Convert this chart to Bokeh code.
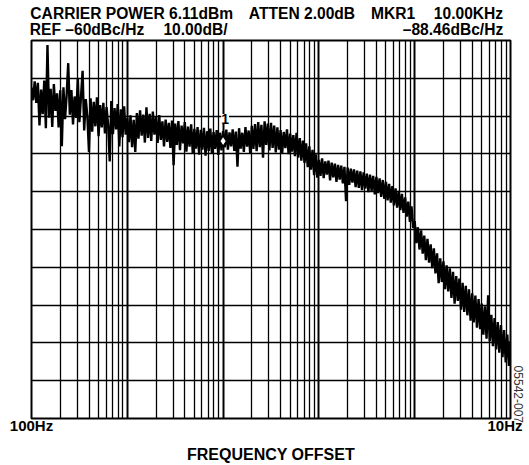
import numpy as np
from bokeh.plotting import figure
from bokeh.models import Range1d, FixedTicker, LogAxis, LinearAxis
from bokeh.core.properties import value
from bokeh.embed import file_html
from bokeh.resources import INLINE

# ---- data (dBc/Hz), 60 samples per decade ----
decade_100_1k = [
    -72.5, -75.8, -70.8, -76.5, -71.2, -82.5, -73.0, -79.5, -70.6, -83.2,
    -61.2, -80.4, -72.8, -82.9, -71.5, -78.6, -74.0, -83.0, -73.2, -88.0,
    -72.4, -80.8, -74.5, -66.0, -79.6, -73.1, -82.2, -74.8, -80.5, -70.0,
    -81.6, -74.9, -68.0, -83.8, -75.5, -80.2, -89.5, -75.3, -84.1, -76.2,
    -82.7, -75.0, -85.3, -77.1, -83.0, -76.5, -84.6, -77.6, -82.4, -92.0,
    -76.0, -84.8, -77.9, -83.5, -76.8, -88.0, -78.2, -85.6, -77.4, -84.9]
decade_1k_10k = [
    -80.5, -86.9, -79.8, -88.2, -81.0, -89.5, -79.2, -86.0, -78.5, -85.2,
    -79.6, -87.0, -77.7, -85.8, -79.4, -86.6, -78.8, -84.9, -80.2, -87.1,
    -79.7, -86.3, -81.4, -88.0, -80.9, -86.8, -81.8, -88.4, -81.2, -93.0,
    -82.0, -87.6, -81.3, -89.0, -82.5, -87.2, -81.6, -89.4, -82.8, -88.1,
    -82.2, -89.8, -83.4, -88.6, -82.9, -90.2, -83.6, -88.9, -83.1, -90.5,
    -84.0, -89.2, -83.3, -90.0, -84.2, -88.7, -83.7, -90.3, -84.4, -89.1]
decade_10k_100k = [
    -84.0, -88.3, -83.6, -88.9, -84.3, -88.0, -83.5, -89.2, -84.1, -93.4,
    -83.2, -88.6, -84.4, -89.5, -82.9, -88.1, -83.8, -90.0, -82.6, -88.7,
    -82.1, -89.3, -81.6, -88.2, -82.3, -91.0, -81.4, -87.6, -82.0, -89.1,
    -81.8, -88.4, -82.5, -89.6, -83.0, -88.9, -83.7, -89.8, -84.2, -88.5,
    -83.5, -90.1, -84.6, -89.4, -85.0, -90.6, -84.4, -91.0, -85.8, -91.8,
    -86.5, -92.4, -87.2, -93.5, -88.0, -94.2, -88.9, -95.6, -90.1, -96.3]
decade_100k_1M = [
    -91.6, -95.8, -91.2, -96.4, -92.0, -95.5, -91.8, -97.0, -92.3, -96.2,
    -92.6, -97.4, -92.9, -96.8, -93.1, -97.8, -93.4, -102.5, -93.6, -98.2,
    -93.9, -97.6, -94.1, -98.8, -94.4, -99.0, -94.6, -99.6, -94.9, -99.2,
    -95.2, -100.1, -95.5, -99.8, -95.8, -100.7, -96.1, -100.4, -96.5, -101.4,
    -96.9, -101.9, -97.4, -102.3, -97.9, -102.9, -98.5, -103.6, -99.1, -104.2,
    -99.8, -104.9, -100.6, -105.6, -101.5, -106.6, -102.6, -108.0, -103.9, -109.6]
decade_1M_10M = [
    -107.8, -113.6, -109.4, -115.3, -110.2, -116.4, -111.6, -118.1, -112.5, -118.8,
    -113.9, -120.2, -115.0, -121.6, -116.3, -124.2, -117.6, -123.9, -118.4, -125.8,
    -119.5, -126.4, -120.3, -128.1, -121.2, -129.6, -122.3, -128.9, -123.0, -131.2,
    -124.1, -131.8, -124.9, -132.7, -125.8, -134.1, -126.9, -134.6, -127.5, -136.0,
    -128.4, -136.4, -129.6, -137.8, -130.3, -138.9, -127.4, -139.6, -132.6, -140.9,
    -133.4, -141.7, -134.5, -142.6, -135.3, -143.8, -136.6, -145.2, -137.8, -146.1,
    -139.5]

trace_db = decade_100_1k + decade_1k_10k + decade_10k_100k + decade_100k_1M + decade_1M_10M
freq_hz = np.logspace(2, 7, len(trace_db))

marker_freq = [1e4]
marker_db = [-86.6]
marker_label = ["1"]

decade_ticks = [1e2, 1e3, 1e4, 1e5, 1e6, 1e7]
minor_ticks = [m * d for d in decade_ticks[:-1] for m in range(2, 10)]
db_ticks = list(range(-160, -59, 10))

# header texts (two rows) and where they sit along the frequency axis
header_row1 = ["CARRIER POWER 6.11dBm", "ATTEN 2.00dB", "MKR1", "10.00KHz"]
header_row1_at = [10 ** 3.0464, 10 ** 4.8236, 10 ** 5.7735, 10 ** 6.5616]
header_row2 = ["REF \u201360dBc/Hz", "10.00dB/", "\u201388.46dBc/Hz"]
header_row2_at = [10 ** 2.5793, 10 ** 3.7119, 10 ** 6.3998]
bottom_labels = ["100Hz", "10Hz"]
bottom_labels_at = [1e2, 10 ** 6.943]
figure_code = "05542-007"
figure_code_at = -153.6

W, H = 529, 465
FL, FR, FT, FB = 31, 510, 40, 423   # frame edges in page pixels
FONT = "Liberation Sans"

p = figure(width=W, height=H, x_axis_type="log", title=None,
           x_range=Range1d(1e2, 1e7), y_range=Range1d(-160, -60),
           output_backend="svg", toolbar_location=None,
           min_border_left=FL, min_border_right=W - FR,
           min_border_top=FT, min_border_bottom=H - FB)
p.yaxis.visible = False
p.background_fill_color = "white"
p.border_fill_color = "white"
p.outline_line_color = "black"
p.outline_line_width = 2


def text_axis(ax, size="15px", bold=True, standoff=0, color="black"):
    ax.axis_line_color = None
    ax.major_tick_line_color = None
    ax.minor_tick_line_color = None
    ax.major_tick_out = 0
    ax.major_tick_in = 0
    ax.minor_tick_out = 0
    ax.minor_tick_in = 0
    ax.major_label_standoff = standoff
    ax.major_label_text_font = FONT
    ax.major_label_text_font_size = size
    ax.major_label_text_font_style = "bold" if bold else "normal"
    ax.major_label_text_color = color


# bottom axis: end labels + axis title
xb = p.xaxis[0]
xb.ticker = FixedTicker(ticks=bottom_labels_at, minor_ticks=[])
xb.major_label_overrides = {float(v): t for v, t in zip(bottom_labels_at, bottom_labels)}
text_axis(xb, standoff=-2)
xb.axis_label = "FREQUENCY OFFSET"
xb.axis_label_text_font = FONT
xb.axis_label_text_font_size = "16px"
xb.axis_label_text_font_style = "bold"
xb.axis_label_text_color = "black"
xb.axis_label_standoff = 9

# header rows as two axes above the frame
ax2 = LogAxis(ticker=FixedTicker(ticks=header_row2_at, minor_ticks=[]),
              major_label_overrides={float(v): t for v, t in zip(header_row2_at, header_row2)})
text_axis(ax2, size="15.6px", standoff=3)
p.add_layout(ax2, "above")
ax1 = LogAxis(ticker=FixedTicker(ticks=header_row1_at, minor_ticks=[]),
              major_label_overrides={float(v): t for v, t in zip(header_row1_at, header_row1)})
text_axis(ax1, size="15.6px", standoff=-4)
p.add_layout(ax1, "above")

# figure code on the right, rotated
ar = LinearAxis(ticker=FixedTicker(ticks=[figure_code_at], minor_ticks=[]),
                major_label_overrides={float(figure_code_at): figure_code},
                major_label_orientation="vertical")
text_axis(ar, size="12px", bold=False, standoff=3, color="#333333")
p.add_layout(ar, "right")

# grid
p.xgrid.ticker = FixedTicker(ticks=decade_ticks, minor_ticks=minor_ticks)
p.xgrid.grid_line_color = "black"
p.xgrid.grid_line_width = 2
p.xgrid.grid_line_alpha = 1
p.xgrid.minor_grid_line_color = "black"
p.xgrid.minor_grid_line_width = 1.3
p.ygrid.ticker = FixedTicker(ticks=db_ticks)
p.ygrid.grid_line_color = "black"
p.ygrid.grid_line_width = 1.6
p.ygrid.grid_line_alpha = 1

p.line(freq_hz, trace_db, line_color="black", line_width=2.4)
p.scatter(marker_freq, marker_db, marker="diamond", size=10,
          fill_color="white", line_color="black", line_width=1.2)
p.text(marker_freq, [-80.8], text=marker_label, x_offset=2,
       text_align="center", text_baseline="middle",
       text_font=value(FONT), text_font_style="bold",
       text_font_size=value("14px"), text_color="black",
       background_fill_color="white")

open("out.html", "w").write(file_html(p, INLINE))
